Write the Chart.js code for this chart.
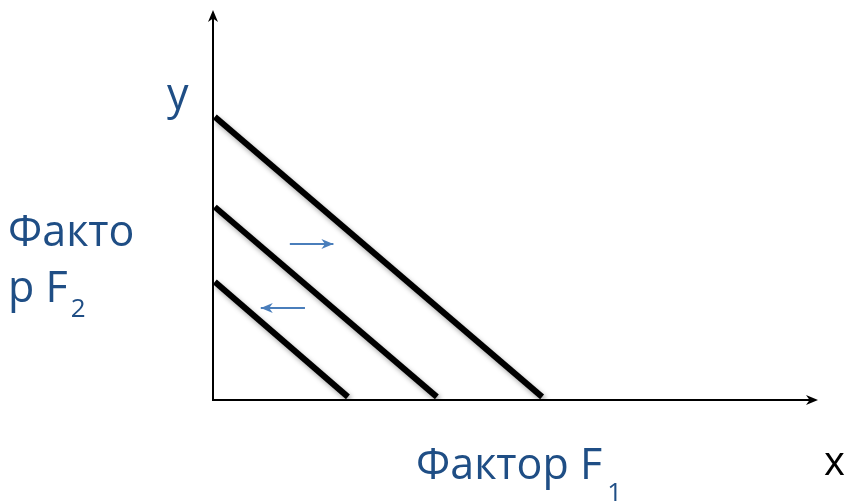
<!DOCTYPE html>
<html>
<head>
<meta charset="utf-8">
<script src="https://cdn.jsdelivr.net/npm/chart.js@4/dist/chart.umd.min.js"></script>
<style>
  html, body { margin: 0; padding: 0; background: #fff; }
  #wrap { width: 848px; height: 503px; }
</style>
</head>
<body>
<div id="wrap"><canvas id="grafico"></canvas></div>
<script>
// Rectas : inicio en eje y, fin en eje x
const linea1 = [{ x: 0.03, y: 7.26 }, { x: 5.44, y: 0.08 }];
const linea2 = [{ x: 0.03, y: 4.95 }, { x: 3.70, y: 0.08 }];
const linea3 = [{ x: 0.03, y: 3.03 }, { x: 2.23, y: 0.08 }];

// Flechas azules (desplazamiento)
const flechaDerecha = [{ x: 1.27, y: 4.0 }, { x: 1.99, y: 4.0 }];
const flechaIzquierda = [{ x: 1.52, y: 2.36 }, { x: 0.79, y: 2.36 }];

// Textos
const etiquetaY = 'y';
const etiquetaX = 'x';
const tituloY = ['Факто', 'р F', '2'];
const tituloX = ['Фактор F', '1'];

const AZUL_TEXTO = '#1f4e85';
const AZUL_FLECHA = '#4a7ebb';
const FUENTE = '"Open Sans", "Noto Sans", sans-serif';

function punta(ctx, x1, y1, x2, y2, largo, ancho, color) {
    const ang = Math.atan2(y2 - y1, x2 - x1);
    ctx.save();
    ctx.translate(x2, y2);
    ctx.rotate(ang);
    ctx.fillStyle = color;
    ctx.beginPath();
    ctx.moveTo(0, 0);
    ctx.lineTo(-largo, -ancho);
    ctx.lineTo(-largo * 0.7, 0);
    ctx.lineTo(-largo, ancho);
    ctx.closePath();
    ctx.fill();
    ctx.restore();
}

const pluginEjes = {
    id: 'ejes',
    beforeDatasetsDraw(chart) {
        const ctx = chart.ctx;
        const xs = chart.scales.x, ys = chart.scales.y;
        const x0 = xs.getPixelForValue(0), y0 = ys.getPixelForValue(0);
        const xMax = xs.getPixelForValue(xs.max), yMax = ys.getPixelForValue(ys.max);
        ctx.save();
        ctx.strokeStyle = '#000';
        ctx.lineWidth = 2;
        ctx.beginPath();
        ctx.moveTo(x0, y0 + 1);
        ctx.lineTo(x0, yMax + 4);
        ctx.moveTo(x0 - 1, y0);
        ctx.lineTo(xMax - 4, y0);
        ctx.stroke();
        ctx.restore();
        punta(ctx, x0, y0, x0, yMax, 12, 5, '#000');
        punta(ctx, x0, y0, xMax, y0, 12, 5, '#000');
    },
    beforeDatasetDraw(chart, args) {
        const ds = chart.data.datasets[args.index];
        if (ds.sombra) {
            const ctx = chart.ctx;
            ctx.save();
            ctx.shadowColor = 'rgba(0,0,0,0.35)';
            ctx.shadowBlur = 5;
            ctx.shadowOffsetX = 2;
            ctx.shadowOffsetY = 3;
        }
    },
    afterDatasetDraw(chart, args) {
        const ds = chart.data.datasets[args.index];
        if (ds.sombra) chart.ctx.restore();
        if (ds.flecha) {
            const meta = chart.getDatasetMeta(args.index);
            const p0 = meta.data[0], p1 = meta.data[1];
            punta(chart.ctx, p0.x, p0.y, p1.x, p1.y, 12, 5, ds.borderColor);
        }
    },
    afterDraw(chart) {
        const ctx = chart.ctx;
        ctx.save();
        ctx.textBaseline = 'alphabetic';
        ctx.textAlign = 'left';
        ctx.fillStyle = AZUL_TEXTO;
        // y
        ctx.font = '43px ' + FUENTE;
        ctx.fillText(etiquetaY, 167, 109);
        // Factor F2
        ctx.fillText(tituloY[0], 8, 246);
        ctx.fillText(tituloY[1], 8, 302);
        let w = ctx.measureText(tituloY[1]).width;
        ctx.font = '26px ' + FUENTE;
        ctx.fillText(tituloY[2], 8 + w + 3, 317);
        // Factor F1
        ctx.font = '43px ' + FUENTE;
        ctx.fillText(tituloX[0], 416, 479);
        w = ctx.measureText(tituloX[0]).width;
        ctx.font = '26px ' + FUENTE;
        ctx.fillText(tituloX[1], 416 + w + 5, 501);
        // x
        ctx.fillStyle = '#000';
        ctx.font = '40px ' + FUENTE;
        ctx.fillText(etiquetaX, 824, 475);
        ctx.restore();
    }
};

const lineaNegra = (datos) => ({
    data: datos, borderColor: '#000', borderWidth: 6, pointRadius: 0,
    showLine: true, fill: false, borderCapStyle: 'butt', sombra: true
});
const lineaAzul = (datos) => ({
    data: datos, borderColor: AZUL_FLECHA, borderWidth: 2, pointRadius: 0,
    showLine: true, fill: false, flecha: true
});

new Chart(document.getElementById('grafico'), {
    type: 'scatter',
    data: {
        datasets: [
            lineaNegra(linea1),
            lineaNegra(linea2),
            lineaNegra(linea3),
            lineaAzul(flechaDerecha),
            lineaAzul(flechaIzquierda)
        ]
    },
    options: {
        responsive: true,
        maintainAspectRatio: false,
        animation: false,
        layout: { padding: { left: 213, right: 30, top: 10, bottom: 103 } },
        plugins: { legend: { display: false }, tooltip: { enabled: false } },
        scales: {
            x: { type: 'linear', min: 0, max: 10, display: false },
            y: { type: 'linear', min: 0, max: 10, display: false }
        }
    },
    plugins: [pluginEjes]
});
</script>
</body>
</html>
